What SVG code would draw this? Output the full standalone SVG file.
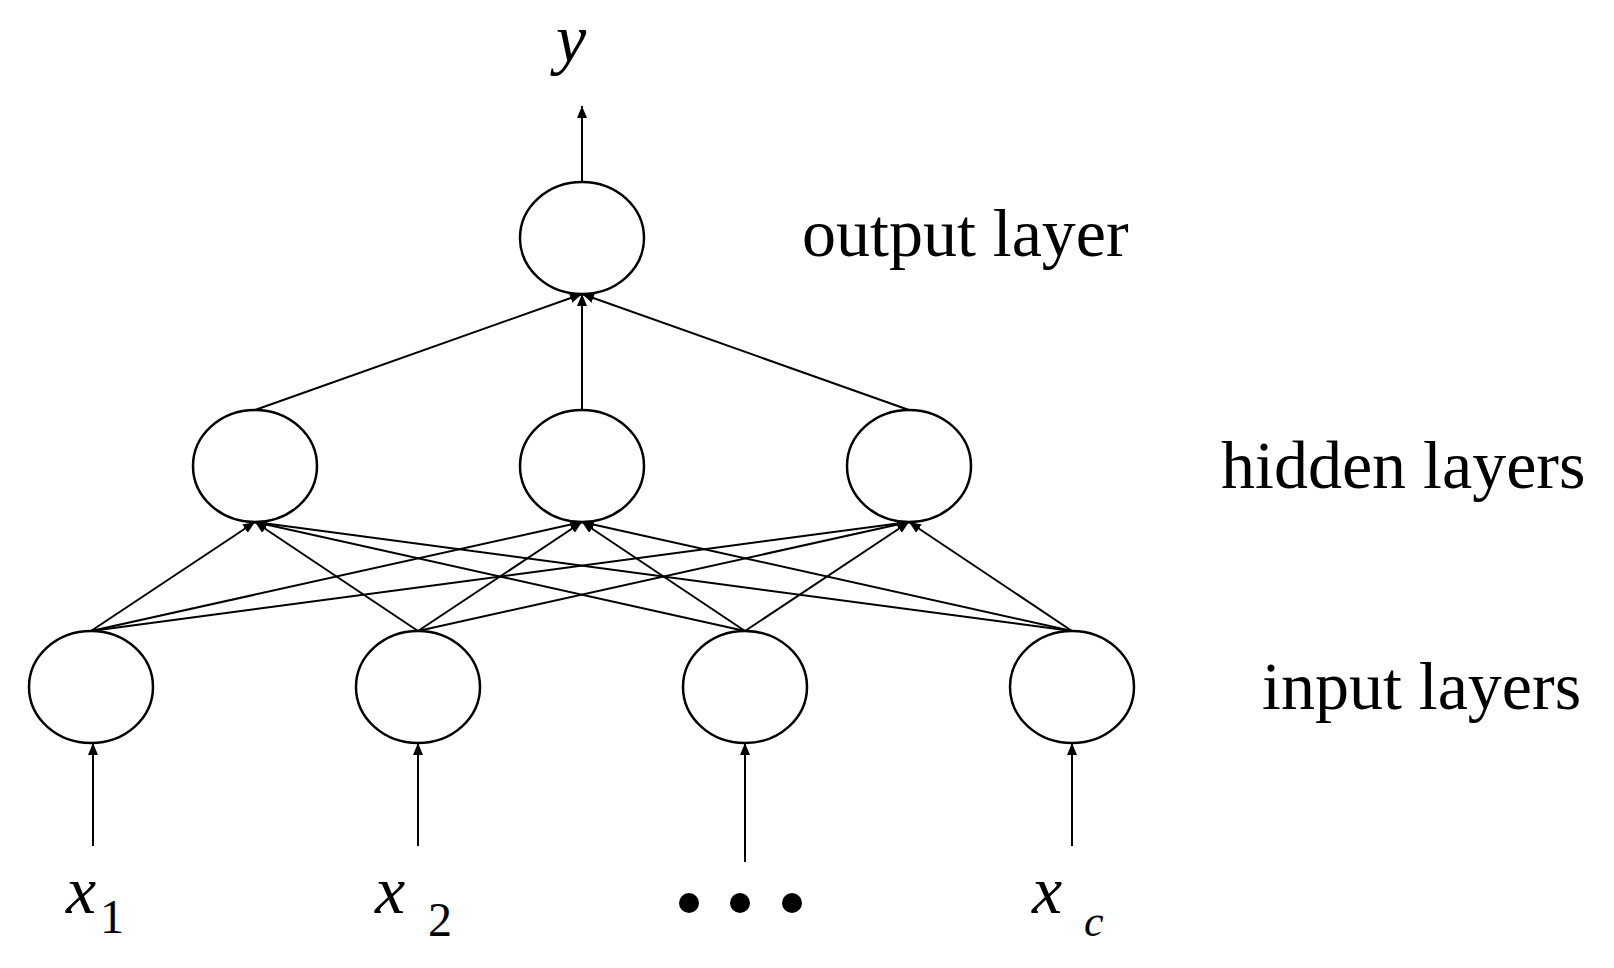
<svg xmlns="http://www.w3.org/2000/svg" width="1614" height="968" viewBox="0 0 1614 968">
<style>
.n{fill:#fff;stroke:#000;stroke-width:2.5}
.c line{stroke:#000;stroke-width:2}
.t{font-family:"Liberation Serif",serif;font-size:68px;fill:#000}
.v{font-family:"Liberation Serif",serif;font-style:italic;font-size:68px;fill:#000}
.s{font-family:"Liberation Serif",serif;font-size:48px;fill:#000}
</style>
<defs><marker id="a" markerWidth="14" markerHeight="12" refX="12" refY="5" orient="auto" markerUnits="userSpaceOnUse"><path d="M0,0L12,5L0,10z" fill="#000"/></marker></defs>
<rect width="1614" height="968" fill="#fff"/>
<g class="c" marker-end="url(#a)">
<line x1="582" y1="182" x2="582" y2="106"/>
<line x1="255" y1="410" x2="582" y2="294"/>
<line x1="582" y1="410" x2="582" y2="294"/>
<line x1="909" y1="410" x2="582" y2="294"/>
<line x1="91" y1="631" x2="255" y2="522"/><line x1="91" y1="631" x2="582" y2="522"/><line x1="91" y1="631" x2="909" y2="522"/>
<line x1="418" y1="631" x2="255" y2="522"/><line x1="418" y1="631" x2="582" y2="522"/><line x1="418" y1="631" x2="909" y2="522"/>
<line x1="745" y1="631" x2="255" y2="522"/><line x1="745" y1="631" x2="582" y2="522"/><line x1="745" y1="631" x2="909" y2="522"/>
<line x1="1072" y1="631" x2="255" y2="522"/><line x1="1072" y1="631" x2="582" y2="522"/><line x1="1072" y1="631" x2="909" y2="522"/>
<line x1="93" y1="846" x2="93" y2="743"/>
<line x1="418" y1="846" x2="418" y2="743"/>
<line x1="745" y1="862" x2="745" y2="743"/>
<line x1="1072" y1="846" x2="1072" y2="743"/>
</g>
<g id="out"><ellipse class="n" cx="582" cy="238" rx="62" ry="56"/></g>
<g id="h1"><ellipse class="n" cx="255" cy="466" rx="62" ry="56"/></g>
<g id="h2"><ellipse class="n" cx="582" cy="466" rx="62" ry="56"/></g>
<g id="h3"><ellipse class="n" cx="909" cy="466" rx="62" ry="56"/></g>
<g id="i1"><ellipse class="n" cx="91" cy="687" rx="62" ry="56"/></g>
<g id="i2"><ellipse class="n" cx="418" cy="687" rx="62" ry="56"/></g>
<g id="i3"><ellipse class="n" cx="745" cy="687" rx="62" ry="56"/></g>
<g id="i4"><ellipse class="n" cx="1072" cy="687" rx="62" ry="56"/></g>
<text class="v" x="556" y="62">y</text>
<text class="t" x="802" y="256">output layer</text>
<text class="t" x="1221" y="488">hidden layers</text>
<text class="t" x="1262" y="709">input layers</text>
<text class="v" x="66" y="913">x</text><text class="s" x="100" y="933">1</text>
<text class="v" x="375" y="913">x</text><text class="s" x="428" y="936">2</text>
<circle cx="689" cy="903" r="10"/><circle cx="740" cy="903" r="10"/><circle cx="792" cy="903" r="10"/>
<text class="v" x="1032" y="913">x</text><text class="v" x="1084" y="936" style="font-size:44px">c</text>
</svg>
